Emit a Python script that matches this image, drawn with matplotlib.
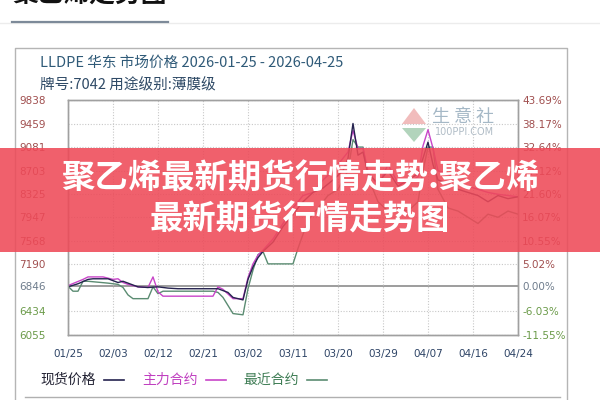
import matplotlib.pyplot as plt
from matplotlib.patches import Rectangle, Polygon
from matplotlib.lines import Line2D

plt.rcParams['font.family'] = ['Noto Sans CJK SC', 'DejaVu Sans']

# x positions are days since 01/25
tick_days = [0, 9, 18, 27, 36, 45, 54, 63, 72, 81, 90]
tick_labels = ['01/25', '02/03', '02/12', '02/21', '03/02', '03/11',
               '03/20', '03/29', '04/07', '04/16', '04/24']

price_ticks = [6055, 6434, 6846, 7190, 7568, 7947, 8325, 8703, 9081, 9459, 9838]
pct_labels = ['-11.55%', '-6.03%', '0.00%', '5.02%', '10.55%', '16.07%',
              '21.60%', '27.12%', '32.64%', '38.17%', '43.69%']
base_price = 6846

spot_days = [0, 2, 4, 5, 8, 9, 10, 11, 12, 14, 16, 18, 20, 22, 30, 32, 33, 35,
             36, 37, 38, 39, 41, 43, 45, 47, 49, 51, 53, 55, 56, 57, 58, 59, 60,
             62, 64, 66, 68, 70, 71, 72, 73, 74, 76, 78, 80, 82, 84, 86, 88, 90]
spot = [6830, 6880, 6950, 6960, 6960, 6930, 6900, 6920, 6890, 6830, 6820, 6830,
        6810, 6800, 6800, 6740, 6660, 6620, 6950, 7150, 7300, 7400, 7550, 7800,
        8000, 8200, 8350, 8420, 8550, 8700, 8900, 9460, 8950, 9000, 8650, 8500,
        8700, 8450, 8550, 8650, 8900, 9160, 8800, 8550, 8500, 8400, 8350, 8300,
        8200, 8300, 8250, 8280]

main_days = [0, 3, 4, 7, 8, 9, 10, 11, 12, 14, 16, 17, 18, 19, 29, 30, 31, 33,
             35, 36, 37, 38, 39, 41, 43, 45, 47, 49, 51, 53, 55, 56, 57, 58, 59,
             60, 62, 64, 66, 68, 70, 71, 72, 73, 74, 76, 78, 80, 82, 84, 86, 88, 90]
main = [6850, 6950, 6990, 6990, 6970, 6950, 6960, 6900, 6870, 6830, 6820, 6990,
        6750, 6680, 6680, 6830, 6790, 6640, 6640, 6980, 7200, 7340, 7420, 7600,
        7850, 8100, 8300, 8350, 8550, 8700, 8900, 9000, 9350, 9050, 9060, 8700,
        8450, 8800, 8500, 8500, 8600, 9100, 9360, 9060, 8700, 8650, 8500, 8450,
        8400, 8350, 8320, 8300, 8280]

near_days = [0, 1, 2, 3, 4, 8, 10, 11, 12, 13, 16, 17, 18, 19, 29, 30, 31, 33,
             35, 36, 37, 38, 39, 40, 45, 46, 48, 50, 52, 54, 56, 57, 58, 59, 60,
             62, 64, 66, 68, 70, 71, 72, 73, 74, 76, 78, 80, 82, 84, 86, 88, 90]
near = [6840, 6760, 6760, 6920, 6920, 6890, 6870, 6820, 6700, 6640, 6640, 6830,
        6720, 6760, 6760, 6740, 6660, 6400, 6380, 6800, 7100, 7350, 7400, 7200,
        7200, 7450, 7900, 8100, 8300, 8400, 8700, 9200, 9080, 9080, 8600, 8200,
        8050, 8100, 8050, 8200, 8700, 9080, 9080, 8400, 8100, 8050, 7950, 7850,
        8000, 7950, 8050, 8000]

fig = plt.figure(figsize=(6, 4), dpi=100)

# page bits around the chart
fig.text(0.02, 1 - 3 / 400, '聚乙烯走势图', fontsize=18.5, fontweight='bold',
         color='#111111', va='baseline')
fig.add_artist(Line2D([0, 1], [1 - 23 / 400] * 2, color='#ececec', lw=1))
fig.add_artist(Line2D([12 / 600, 168 / 600], [1 - 22 / 400] * 2, color='#7d8a99', lw=1.6))
fig.add_artist(Line2D([15 / 600, 15 / 600, 567 / 600, 567 / 600],
                      [0, 1 - 48 / 400, 1 - 48 / 400, 0], color='#b5b5b5', lw=1))
fig.add_artist(Line2D([25 / 600, 560 / 600], [1 - 397 / 400] * 2, color='#b0b0b0', lw=1))

fig.text(40 / 600, 1 - 63 / 400, 'LLDPE 华东 市场价格 2026-01-25 - 2026-04-25',
         fontsize=10.5, color='#2f5a78', va='center')
fig.text(40 / 600, 1 - 85 / 400, '牌号:7042 用途级别:薄膜级',
         fontsize=10.5, color='#2f4a66', va='center')

ax = fig.add_axes([68 / 600, 1 - 335 / 400, 450 / 600, 235 / 400])
ax.set_xlim(0, 90)
ax.set_ylim(6055, 9838)

for v in price_ticks:
    if v == base_price:
        ax.axhline(v, color='#8c8c8c', lw=1.2, zorder=1)
    else:
        ax.axhline(v, color='#c8c8c8', lw=0.8, ls=(0, (1, 1.5)), zorder=1)
for d in tick_days:
    ax.axvline(d, color='#c8c8c8', lw=0.8, ls=(0, (1, 1.5)), zorder=1)

ax.plot(near_days, near, color='#5b8c72', lw=1.0, zorder=3)
ax.plot(main_days, main, color='#c845c8', lw=1.0, zorder=4)
ax.plot(spot_days, spot, color='#25234f', lw=1.0, zorder=5)

ax.set_xticks(tick_days)
ax.set_xticklabels(tick_labels, fontsize=7.5, color='#2e4466', family='DejaVu Sans')
ax.set_yticks(price_ticks)
ax.set_yticklabels([str(v) for v in price_ticks], fontsize=7.5, family='DejaVu Sans')
ax.tick_params(axis='x', length=0, pad=10)
ax.tick_params(axis='y', length=0, pad=16)

ax2 = ax.twinx()
ax2.set_ylim(6055, 9838)
ax2.set_yticks(price_ticks)
ax2.set_yticklabels(pct_labels, fontsize=7.5, family='DejaVu Sans')
ax2.tick_params(axis='y', length=0, pad=3)

def label_color(v):
    if v > base_price:
        return '#a04e4e'
    if v == base_price:
        return '#6e7c8c'
    return '#6a9a48'

for lbl, v in zip(ax.get_yticklabels(), price_ticks):
    lbl.set_color(label_color(v))
for lbl, v in zip(ax2.get_yticklabels(), price_ticks):
    lbl.set_color(label_color(v))

for a in (ax, ax2):
    for s in a.spines.values():
        s.set_color('#a0a0a0')
        s.set_linewidth(1)

# watermark
fig.add_artist(Polygon([(402 / 600, 1 - 124 / 400), (414 / 600, 1 - 108 / 400),
                        (426 / 600, 1 - 124 / 400)], closed=True,
                       facecolor='#e89090', edgecolor='none', alpha=0.6))
fig.add_artist(Polygon([(402 / 600, 1 - 128 / 400), (414 / 600, 1 - 142 / 400),
                        (426 / 600, 1 - 128 / 400)], closed=True,
                       facecolor='#7fb890', edgecolor='none', alpha=0.6))
fig.text(463 / 600, 1 - 117 / 400, '生 意 社', fontsize=13, color='#8fa6b8',
         ha='center', va='center', alpha=0.8)
fig.text(465 / 600, 1 - 132 / 400, '100PPI.COM', fontsize=7, color='#b0bcc6',
         ha='center', va='center', family='DejaVu Sans')

# legend row
legend_items = [('现货价格', '#222233', '#25234f', 40),
                ('主力合约', '#c040c0', '#c845c8', 142),
                ('最近合约', '#3f7d55', '#5b8c72', 243)]
for name, tcol, lcol, x0 in legend_items:
    fig.text(x0 / 600, 1 - 380 / 400, name, fontsize=10, color=tcol, va='center')
    fig.add_artist(Line2D([(x0 + 64) / 600, (x0 + 84) / 600], [1 - 380 / 400] * 2,
                          color=lcol, lw=1.2))

# red banner overlay
fig.add_artist(Rectangle((0, 1 - 252 / 400), 1, 104 / 400, transform=fig.transFigure,
                         facecolor='#ee4a58', alpha=0.88, edgecolor='none', zorder=10))
fig.text(0.5, 1 - 179 / 400, '聚乙烯最新期货行情走势:聚乙烯', fontsize=24,
         fontweight='bold', color='white', ha='center', va='center', zorder=11)
fig.text(0.5, 1 - 220 / 400, '最新期货行情走势图', fontsize=24,
         fontweight='bold', color='white', ha='center', va='center', zorder=11)

fig.savefig('out.png', dpi=100)
